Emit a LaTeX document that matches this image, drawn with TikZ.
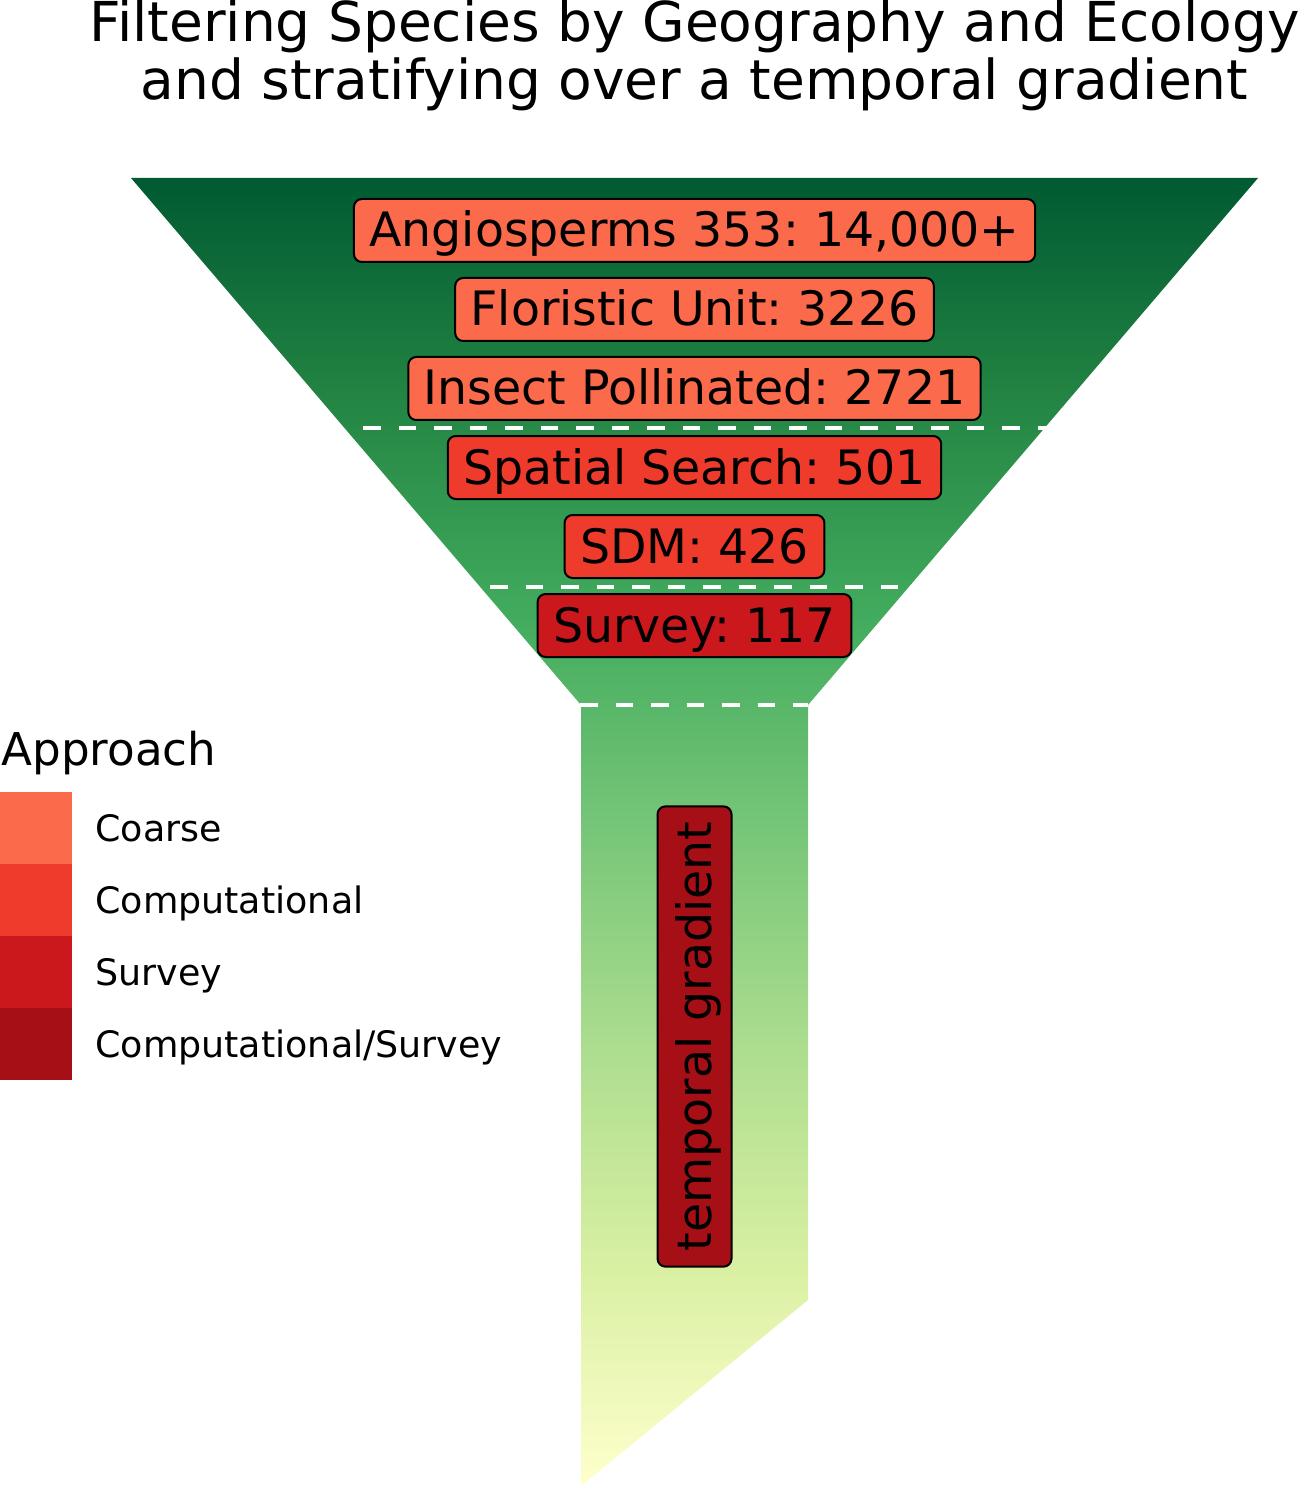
\documentclass[tikz,border=0pt]{standalone}
\usepackage{fontspec}
\setmainfont{DejaVu Sans}
\usepackage{tikz}
\usetikzlibrary{positioning}
\tikzset{>=latex}
\frenchspacing

% palettes
\definecolor{coarse}{HTML}{FB6A4A}
\definecolor{comp}{HTML}{EF3B2C}
\definecolor{survey}{HTML}{CB181D}
\definecolor{compsurv}{HTML}{A50F15}
\definecolor{ylgnA}{HTML}{FFFFCC}
\definecolor{ylgnB}{HTML}{D9F0A3}
\definecolor{ylgnC}{HTML}{ADDD8E}
\definecolor{ylgnD}{HTML}{78C679}
\definecolor{ylgnE}{HTML}{41AB5D}
\definecolor{ylgnF}{HTML}{238443}
\definecolor{ylgnG}{HTML}{005A32}
\pgfdeclareverticalshading{ylgn}{100bp}{color(0bp)=(ylgnA); color(25bp)=(ylgnA);
  color(33.33bp)=(ylgnB); color(41.67bp)=(ylgnC); color(50bp)=(ylgnD);
  color(58.33bp)=(ylgnE); color(66.67bp)=(ylgnF); color(75bp)=(ylgnG);
  color(100bp)=(ylgnG)}

\tikzset{
  countbox/.style={draw=black, line width=1pt, rounded corners=4pt,
    minimum height=31.5pt, inner xsep=7.7pt, inner ysep=0pt, text=black,
    text height=16.5pt, text depth=0pt,
    font=\fontsize{23.7}{28}\selectfont},
  stageline/.style={white, line width=1.6pt, dash pattern=on 8.75pt off 9pt},
  titlefont/.style={font=\fontsize{27.5}{29}\selectfont},
}

\begin{document}
\begin{tikzpicture}[x=0.5pt, y=-0.5pt]
  \useasboundingbox (0,0) rectangle (1298,1486);

  % title
  \node[titlefont, anchor=base, inner sep=0pt] (title1) at (694.5,42)
    {Filtering Species by Geography and Ecology};
  \node[titlefont, anchor=base, inner sep=0pt] (title2) at (694.5,100)
    {and stratifying over a temporal gradient};

  % funnel
  \shade[shading=ylgn] (131,178) -- (1258,178) -- (808,705) -- (808,1300)
    -- (581,1486) -- (581,705) -- cycle;
  \draw[stageline] (363,428) -- (1048,428);
  \draw[stageline] (490,587) -- (905,587);
  \draw[stageline] (580,705) -- (808,705);

  % filtering steps
  \node[countbox, fill=coarse] (angio) at (694.5,230.5) {Angiosperms 353: 14,000+};
  \node[countbox, fill=coarse, below=7pt of angio] (flor) {Floristic Unit: 3226};
  \node[countbox, fill=coarse, below=7pt of flor] (insect) {Insect Pollinated: 2721};
  \node[countbox, fill=comp, below=7pt of insect] (spatial) {Spatial Search: 501};
  \node[countbox, fill=comp, below=7pt of spatial] (sdm) {SDM: 426};
  \node[countbox, fill=survey, below=7pt of sdm] (surv) {Survey: 117};
  \node[countbox, fill=compsurv, rotate=90, minimum height=37pt]
    (temporal) at (694.5,1036.5) {temporal gradient};

  % legend
  \node[anchor=base west, inner sep=0pt, font=\fontsize{22.6}{26}\selectfont]
    (approach) at (1,765) {Approach};
  \foreach \c/\t [count=\i] in {coarse/Coarse, comp/Computational,
      survey/Survey, compsurv/{Computational/Survey}} {
    \fill[\c] (0,720+72*\i) rectangle (72,792+72*\i);
    \node[anchor=base west, inner sep=0pt, font=\fontsize{18.2}{21}\selectfont]
      (key\i) at (95,769+72*\i) {\t};
  }
\end{tikzpicture}
\end{document}
